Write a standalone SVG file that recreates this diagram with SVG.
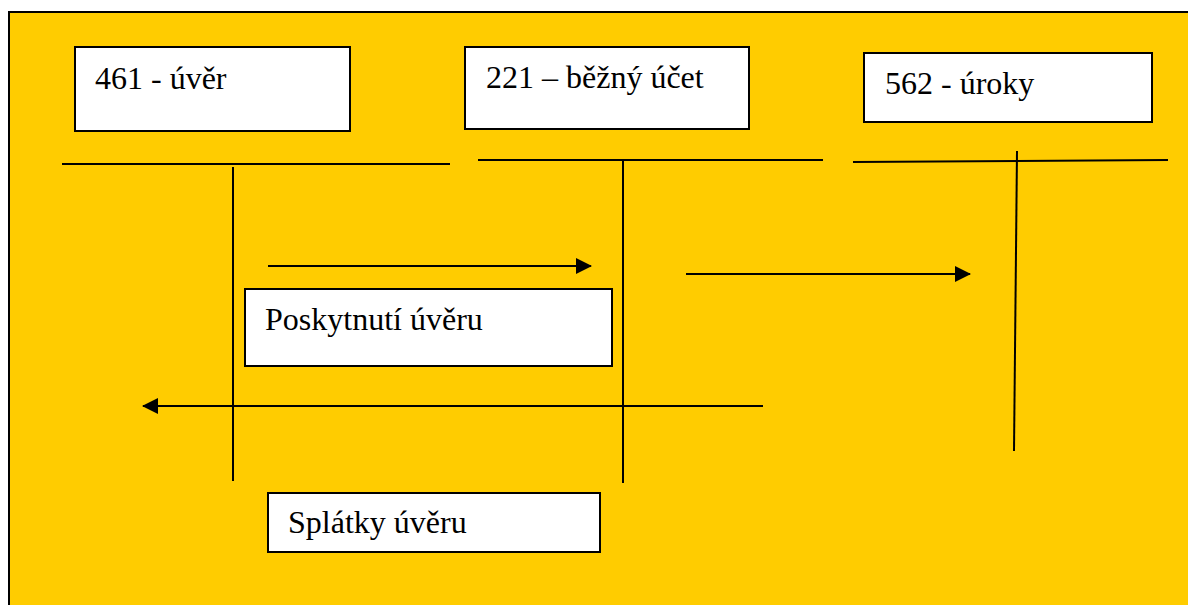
<svg xmlns="http://www.w3.org/2000/svg" width="1188" height="605" viewBox="0 0 1188 605">
  <style>
    .box { fill: #ffffff; stroke: #000000; stroke-width: 2; }
    .lbl { font-family: 'Liberation Serif', 'Times New Roman', serif; font-size: 32px; fill: #000000; }
    .t { stroke: #000000; stroke-width: 2; fill: none; }
    .arr { stroke: #000000; stroke-width: 2; fill: none; marker-end: url(#head); }
  </style>
  <defs>
    <marker id="head" viewBox="0 0 16 16" refX="15" refY="8" markerWidth="16" markerHeight="16" markerUnits="userSpaceOnUse" orient="auto">
      <path d="M0,0 L16,8 L0,16 Z" fill="#000000"/>
    </marker>
  </defs>

  <rect x="0" y="0" width="1188" height="605" fill="#ffffff"/>
  <!-- yellow frame, running past the right and bottom edges -->
  <rect id="frame" x="9" y="12" width="1190" height="610" fill="#ffcc00" stroke="#000000" stroke-width="2"/>

  <g id="acc-461">
    <rect class="box" x="75" y="47" width="275" height="84"/>
    <text class="lbl" x="95" y="89">461 - úvěr</text>
  </g>
  <g id="acc-221">
    <rect class="box" x="465" y="47" width="284" height="82"/>
    <text class="lbl" x="486" y="88">221 – běžný účet</text>
  </g>
  <g id="acc-562">
    <rect class="box" x="864" y="53" width="288" height="69"/>
    <text class="lbl" x="885" y="94">562 - úroky</text>
  </g>

  <!-- T-accounts -->
  <g id="t-accounts">
    <line class="t" x1="62" y1="164" x2="450" y2="164"/>
    <line class="t" x1="233" y1="167" x2="233" y2="481"/>
    <line class="t" x1="478" y1="160" x2="823" y2="160"/>
    <line class="t" x1="623" y1="160" x2="623" y2="483"/>
    <line class="t" x1="853" y1="162" x2="1168" y2="160"/>
    <line class="t" x1="1017" y1="151" x2="1014" y2="451"/>
  </g>

  <g id="connectors">
    <line class="arr" x1="268" y1="266" x2="591" y2="266"/>
    <line class="arr" x1="686" y1="274" x2="970" y2="274"/>
    <line class="arr" x1="763" y1="406" x2="143" y2="406"/>
  </g>

  <g id="poskytnuti">
    <rect class="box" x="245" y="289" width="367" height="77"/>
    <text class="lbl" x="265" y="330">Poskytnutí úvěru</text>
  </g>
  <g id="splatky">
    <rect class="box" x="268" y="493" width="332" height="59"/>
    <text class="lbl" x="288" y="533">Splátky úvěru</text>
  </g>
</svg>
